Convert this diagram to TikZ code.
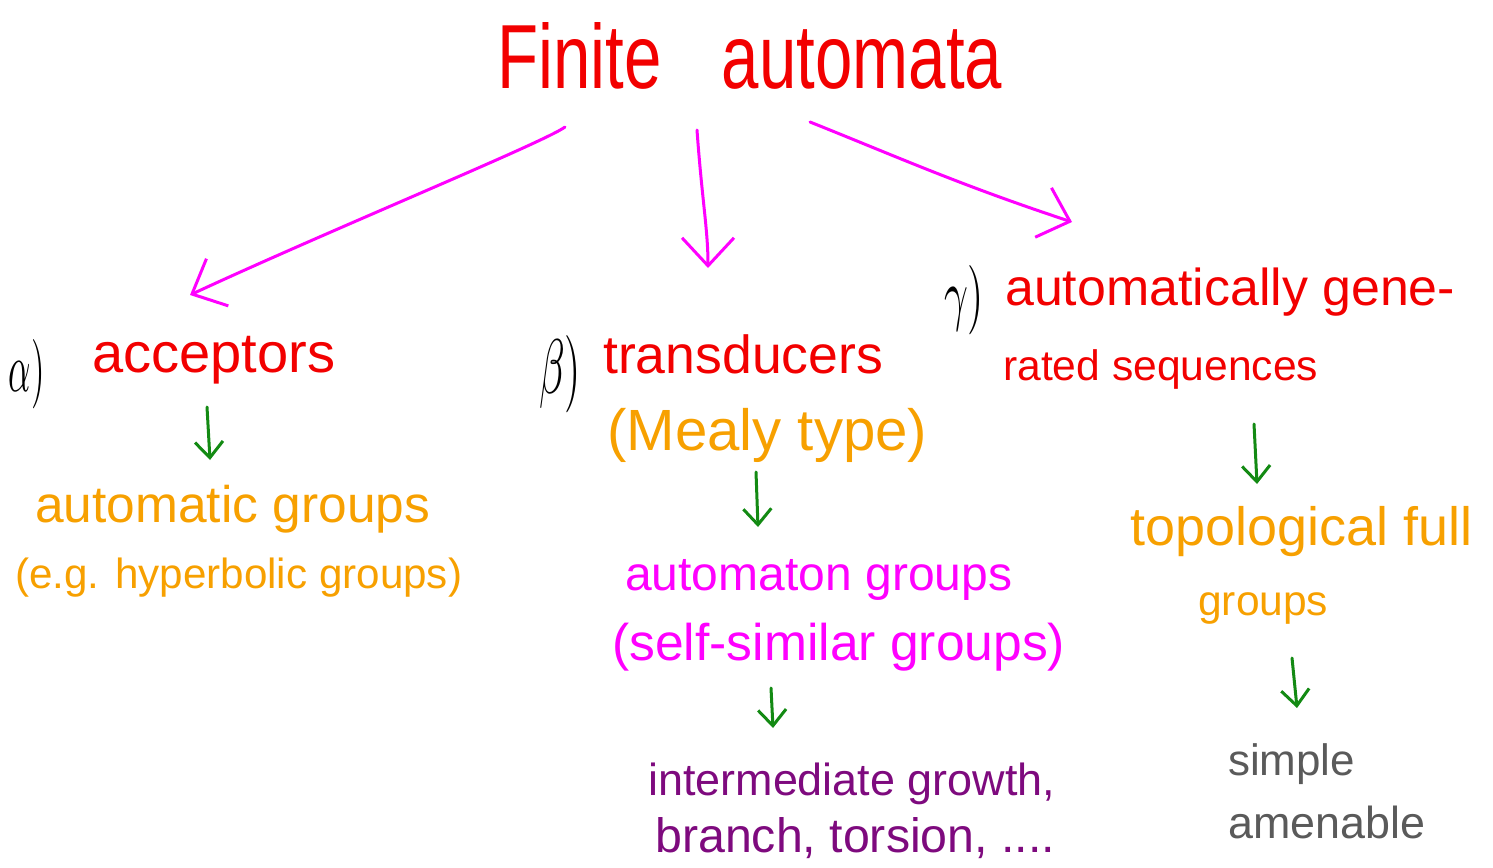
\documentclass[tikz,border=0pt]{standalone}
\usepackage{fontspec}
\setmainfont{Liberation Sans}
\usetikzlibrary{arrows.meta}
\definecolor{hred}{HTML}{F20000}
\definecolor{hmag}{HTML}{FF00FF}
\definecolor{hgreen}{HTML}{138A13}
\definecolor{horange}{HTML}{F7A000}
\definecolor{hpurple}{HTML}{7E0A7E}
\definecolor{hgray}{HTML}{5A5A5A}
\newcommand{\fitw}[2]{\resizebox{#1}{!}{#2}}
\tikzset{
  lbl/.style={inner sep=0pt, anchor=base west, font=\fontsize{40}{44}\selectfont},
  greek/.style={inner sep=0pt, anchor=center, text=black},
  bigarrow/.style={draw=hmag, line width=3pt, line cap=round,
    -{Straight Barb[length=28pt,width=52pt,line width=3pt]}},
  smallarrow/.style={draw=hgreen, line width=3pt, line cap=round,
    -{Straight Barb[length=16pt,width=28pt,line width=3pt]}}
}
\begin{document}
\begin{tikzpicture}[x=1pt,y=-1pt]
\path[use as bounding box] (0,0) rectangle (1493,867);

% title
\node[lbl, text=hred] (title) at (497,88) {\resizebox{505pt}{66pt}{Finite\hspace{0.9em}automata}};

% alpha branch
\node[greek] (alab) at (27,374) {\resizebox{36pt}{52pt}{$\alpha)$}};
\node[lbl, text=hred] (acc) at (92,372) {\fitw{243pt}{acceptors}};
\node[lbl, text=horange] (autg) at (35,522) {\fitw{395pt}{automatic groups}};
\node[lbl, text=horange] (hyp) at (15,588) {\fitw{447pt}{(e.g. hyperbolic groups)}};

% beta branch
\node[greek] (blab) at (560,374) {\resizebox{42pt}{58pt}{$\beta)$}};
\node[lbl, text=hred] (trans) at (603,373) {\fitw{280pt}{transducers}};
\node[lbl, text=horange] (mealy) at (607,450) {\fitw{320pt}{(Mealy type)}};
\node[lbl, text=hmag] (autong) at (625,590) {\fitw{387pt}{automaton groups}};
\node[lbl, text=hmag] (selfsim) at (612,660) {\fitw{453pt}{(self-similar groups)}};
\node[lbl, text=hpurple] (inter) at (648,795) {\fitw{407pt}{intermediate growth,}};
\node[lbl, text=hpurple] (branch) at (655,852) {\fitw{400pt}{branch, torsion, ....}};

% gamma branch
\node[greek] (glab) at (964,300) {\resizebox{40pt}{52pt}{$\gamma)$}};
\node[lbl, text=hred] (autseq) at (1005,305) {\fitw{450pt}{automatically gene-}};
\node[lbl, text=hred] (rated) at (1003,380) {\fitw{315pt}{rated sequences}};
\node[lbl, text=horange] (topo) at (1130,545) {\fitw{342pt}{topological full}};
\node[lbl, text=horange] (grp) at (1198,615) {\fitw{130pt}{groups}};
\node[lbl, text=hgray] (simple) at (1228,775) {\fitw{127pt}{simple}};
\node[lbl, text=hgray] (amen) at (1228,838) {\fitw{197pt}{amenable}};

% arrow end points
\coordinate (s1) at (565,127);
\coordinate (e1) at (190,295);
\coordinate (s2) at (697,130);
\coordinate (e2) at (708,268);
\coordinate (s3) at (810,122);
\coordinate (e3) at (1072,222);

\draw[bigarrow] (s1) .. controls (545,142) and (330,230) .. (e1);
\draw[bigarrow] (s2) .. controls (702,200) and (708,230) .. (e2);
\draw[bigarrow] (s3) .. controls (900,158) and (960,185) .. (e3);

\coordinate (g1s) at (207,407);
\coordinate (g1e) at (210,460);
\coordinate (g2s) at (756,472);
\coordinate (g2e) at (758,527);
\coordinate (g3s) at (771,688);
\coordinate (g3e) at (773,728);
\coordinate (g4s) at (1254,424);
\coordinate (g4e) at (1257,484);
\coordinate (g5s) at (1292,658);
\coordinate (g5e) at (1297,708);

\draw[smallarrow] (g1s) -- (g1e);
\draw[smallarrow] (g2s) -- (g2e);
\draw[smallarrow] (g3s) -- (g3e);
\draw[smallarrow] (g4s) -- (g4e);
\draw[smallarrow] (g5s) -- (g5e);
\end{tikzpicture}
\end{document}
